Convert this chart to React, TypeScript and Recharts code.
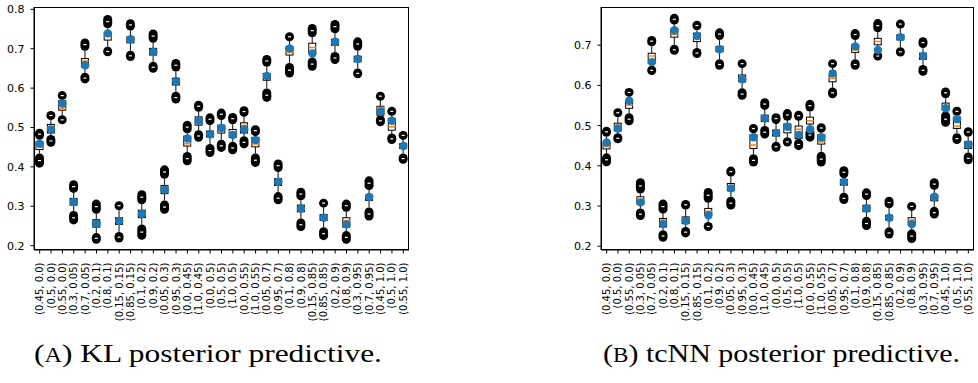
import React from "react";
import { ComposedChart, Bar, Scatter, XAxis, YAxis } from "recharts";

const tickLabels = [
  "(0.45, 0.0)", "(0.5, 0.0)", "(0.55, 0.0)", "(0.3, 0.05)", "(0.7, 0.05)",
  "(0.2, 0.1)", "(0.8, 0.1)", "(0.15, 0.15)", "(0.85, 0.15)", "(0.1, 0.2)",
  "(0.9, 0.2)", "(0.05, 0.3)", "(0.95, 0.3)", "(0.0, 0.45)", "(1.0, 0.45)",
  "(0.0, 0.5)", "(0.5, 0.5)", "(1.0, 0.5)", "(0.0, 0.55)", "(1.0, 0.55)",
  "(0.05, 0.7)", "(0.95, 0.7)", "(0.1, 0.8)", "(0.9, 0.8)", "(0.15, 0.85)",
  "(0.85, 0.85)", "(0.2, 0.9)", "(0.8, 0.9)", "(0.3, 0.95)", "(0.7, 0.95)",
  "(0.45, 1.0)", "(0.5, 1.0)", "(0.55, 1.0)",
];

// (A) KL posterior predictive
const klMean = [0.459, 0.495, 0.561, 0.311, 0.658, 0.256, 0.739, 0.263, 0.724, 0.281, 0.692, 0.342, 0.618, 0.472, 0.517, 0.483, 0.499, 0.481, 0.495, 0.468, 0.631, 0.362, 0.701, 0.294, 0.688, 0.271, 0.718, 0.254, 0.674, 0.324, 0.540, 0.517, 0.453];
const klMedian = [0.451, 0.502, 0.548, 0.311, 0.669, 0.260, 0.733, 0.264, 0.724, 0.281, 0.692, 0.345, 0.618, 0.459, 0.519, 0.483, 0.497, 0.489, 0.506, 0.458, 0.627, 0.362, 0.691, 0.294, 0.703, 0.271, 0.715, 0.264, 0.674, 0.320, 0.551, 0.502, 0.453];
const klQ1 = [0.444, 0.486, 0.544, 0.303, 0.654, 0.247, 0.722, 0.254, 0.715, 0.271, 0.684, 0.332, 0.608, 0.453, 0.506, 0.476, 0.486, 0.475, 0.486, 0.451, 0.620, 0.353, 0.684, 0.286, 0.688, 0.264, 0.709, 0.247, 0.667, 0.315, 0.531, 0.493, 0.447];
const klQ3 = [0.464, 0.508, 0.568, 0.320, 0.675, 0.266, 0.741, 0.271, 0.730, 0.290, 0.701, 0.353, 0.625, 0.478, 0.527, 0.491, 0.506, 0.495, 0.512, 0.475, 0.637, 0.370, 0.705, 0.303, 0.714, 0.279, 0.724, 0.271, 0.681, 0.328, 0.554, 0.523, 0.459];
const klHighFlierMin = [0.469, 0.519, 0.571, 0.334, 0.695, 0.281, 0.752, 0.290, 0.746, 0.305, 0.715, 0.370, 0.642, 0.485, 0.540, 0.506, 0.519, 0.508, 0.527, 0.478, 0.654, 0.387, 0.720, 0.315, 0.729, 0.297, 0.739, 0.286, 0.695, 0.341, 0.571, 0.531, 0.469];
const klHighFlierMax = [0.497, 0.542, 0.591, 0.366, 0.726, 0.317, 0.786, 0.313, 0.775, 0.341, 0.749, 0.404, 0.674, 0.517, 0.568, 0.536, 0.548, 0.537, 0.554, 0.506, 0.684, 0.419, 0.741, 0.347, 0.763, 0.319, 0.773, 0.317, 0.729, 0.376, 0.588, 0.551, 0.491];
const klLowFlierMin = [0.398, 0.451, 0.508, 0.254, 0.612, 0.205, 0.681, 0.208, 0.669, 0.215, 0.639, 0.281, 0.561, 0.404, 0.464, 0.425, 0.438, 0.432, 0.447, 0.400, 0.565, 0.305, 0.627, 0.237, 0.644, 0.214, 0.661, 0.205, 0.625, 0.264, 0.503, 0.458, 0.408];
const klLowFlierMax = [0.434, 0.481, 0.531, 0.288, 0.639, 0.232, 0.705, 0.235, 0.695, 0.254, 0.667, 0.315, 0.591, 0.438, 0.493, 0.458, 0.469, 0.464, 0.478, 0.434, 0.599, 0.336, 0.664, 0.269, 0.678, 0.247, 0.692, 0.237, 0.650, 0.297, 0.531, 0.485, 0.434];

// (B) tcNN posterior predictive
const tcMean = [0.458, 0.493, 0.562, 0.309, 0.658, 0.255, 0.737, 0.263, 0.723, 0.277, 0.690, 0.344, 0.615, 0.471, 0.518, 0.482, 0.497, 0.477, 0.491, 0.471, 0.630, 0.360, 0.697, 0.294, 0.688, 0.271, 0.720, 0.255, 0.673, 0.323, 0.543, 0.516, 0.453];
const tcMedian = [0.448, 0.501, 0.551, 0.316, 0.673, 0.265, 0.727, 0.269, 0.717, 0.287, 0.690, 0.348, 0.619, 0.452, 0.521, 0.482, 0.493, 0.491, 0.512, 0.460, 0.618, 0.360, 0.688, 0.294, 0.709, 0.271, 0.720, 0.265, 0.673, 0.319, 0.549, 0.499, 0.449];
const tcQ1 = [0.442, 0.487, 0.543, 0.305, 0.655, 0.248, 0.720, 0.256, 0.709, 0.277, 0.684, 0.338, 0.609, 0.443, 0.510, 0.474, 0.482, 0.468, 0.504, 0.454, 0.609, 0.352, 0.682, 0.286, 0.701, 0.265, 0.713, 0.252, 0.665, 0.313, 0.539, 0.493, 0.443];
const tcQ3 = [0.456, 0.506, 0.560, 0.323, 0.680, 0.269, 0.740, 0.273, 0.730, 0.294, 0.697, 0.356, 0.626, 0.477, 0.526, 0.489, 0.504, 0.499, 0.521, 0.477, 0.626, 0.366, 0.701, 0.302, 0.717, 0.277, 0.726, 0.271, 0.680, 0.327, 0.556, 0.521, 0.460];
const tcHighFlierMin = [0.472, 0.521, 0.572, 0.331, 0.697, 0.281, 0.751, 0.291, 0.737, 0.308, 0.713, 0.373, 0.643, 0.481, 0.539, 0.504, 0.512, 0.512, 0.535, 0.482, 0.643, 0.369, 0.713, 0.315, 0.732, 0.294, 0.742, 0.288, 0.693, 0.340, 0.568, 0.524, 0.472];
const tcHighFlierMax = [0.497, 0.543, 0.593, 0.369, 0.723, 0.316, 0.778, 0.315, 0.761, 0.345, 0.742, 0.398, 0.665, 0.504, 0.568, 0.531, 0.541, 0.537, 0.564, 0.506, 0.665, 0.399, 0.740, 0.344, 0.765, 0.323, 0.763, 0.310, 0.720, 0.369, 0.595, 0.547, 0.496];
const tcLowFlierMin = [0.399, 0.456, 0.501, 0.265, 0.626, 0.211, 0.676, 0.222, 0.668, 0.240, 0.639, 0.291, 0.564, 0.398, 0.468, 0.435, 0.448, 0.439, 0.460, 0.398, 0.568, 0.305, 0.639, 0.240, 0.662, 0.219, 0.672, 0.208, 0.624, 0.269, 0.497, 0.454, 0.404];
const tcLowFlierMax = [0.431, 0.481, 0.531, 0.294, 0.649, 0.240, 0.701, 0.248, 0.693, 0.258, 0.665, 0.323, 0.593, 0.429, 0.499, 0.460, 0.471, 0.467, 0.493, 0.435, 0.595, 0.333, 0.665, 0.273, 0.684, 0.247, 0.695, 0.242, 0.651, 0.298, 0.535, 0.481, 0.433];

const klTicks = [0.2, 0.3, 0.4, 0.5, 0.6, 0.7, 0.8];
const tcTicks = [0.2, 0.3, 0.4, 0.5, 0.6, 0.7];

const buildRows = (
  mean: number[], median: number[], q1: number[], q3: number[],
  hiMin: number[], hiMax: number[], loMin: number[], loMax: number[]
) =>
  tickLabels.map((label, i) => ({
    label,
    mean: mean[i],
    median: median[i],
    box: [q1[i], q3[i]],
    whisker: [loMax[i], hiMin[i]],
    high: [hiMin[i], hiMax[i]],
    low: [loMin[i], loMax[i]],
  }));

const klRows = buildRows(klMean, klMedian, klQ1, klQ3, klHighFlierMin, klHighFlierMax, klLowFlierMin, klLowFlierMax);
const tcRows = buildRows(tcMean, tcMedian, tcQ1, tcQ3, tcHighFlierMin, tcHighFlierMax, tcLowFlierMin, tcLowFlierMax);

const FONT = "DejaVu Sans";

// many overlapping open circles merge into a black pill
const FlierCluster = (p: any) => {
  const { x, y, width, height } = p;
  const h = Math.max(height, width);
  const top = y + height / 2 - h / 2;
  const cx = x + width / 2;
  return (
    <g>
      <rect x={x} y={top} width={width} height={h} rx={width / 2} fill="#000" />
      <rect x={cx - 1.5} y={top + h / 2 - 0.6} width={3} height={1.2} fill="#fff" />
    </g>
  );
};

const Whisker = (p: any) => {
  const { x, y, width, height } = p;
  const cx = x + width / 2;
  return <line x1={cx} x2={cx} y1={y} y2={y + height} stroke="#222" strokeWidth={1.1} />;
};

const BoxShape = (p: any) => {
  const { x, y, width, height } = p;
  return <rect x={x} y={y} width={width} height={height} fill="#fff" stroke="#000" strokeWidth={1} />;
};

const MedianMark = (p: any) => (
  <line x1={p.cx - 3.6} x2={p.cx + 3.6} y1={p.cy} y2={p.cy} stroke="#ff7f0e" strokeWidth={1.5} />
);

const MeanMark = (p: any) => <circle cx={p.cx} cy={p.cy} r={4.2} fill="#1f77b4" />;

const RotatedTick = (p: any) => {
  const { x, y, payload } = p;
  return (
    <text
      x={x}
      y={y}
      transform={`rotate(-90, ${x}, ${y})`}
      textAnchor="end"
      dominantBaseline="central"
      fontSize={10}
      fontFamily={FONT}
      fill="#000"
    >
      {payload.value}
    </text>
  );
};

interface PanelProps {
  rows: any[];
  domain: [number, number];
  ticks: number[];
  width: number;
  margin: { top: number; right: number; left: number; bottom: number };
}

const BoxPanel: React.FC<PanelProps> = ({ rows, domain, ticks, width, margin }) => {
  const plotW = width - margin.left - margin.right - 30;
  const plotH = 340 - margin.top - margin.bottom - 90;
  return (
    <div style={{ position: "relative", width, height: 340 }}>
      <ComposedChart width={width} height={340} data={rows} margin={margin}>
        <XAxis xAxisId="w" dataKey="label" orientation="top" height={0} hide />
        <XAxis xAxisId="lo" dataKey="label" orientation="top" height={0} hide />
        <XAxis xAxisId="hi" dataKey="label" orientation="top" height={0} hide />
        <XAxis xAxisId="bx" dataKey="label" orientation="top" height={0} hide />
        <XAxis
          xAxisId="main"
          dataKey="label"
          orientation="bottom"
          interval={0}
          height={90}
          tickSize={3.5}
          tickMargin={9}
          tick={<RotatedTick />}
          axisLine={{ stroke: "#000" }}
          tickLine={{ stroke: "#000" }}
        />
        <YAxis
          type="number"
          domain={domain}
          ticks={ticks}
          allowDataOverflow
          width={30}
          tickSize={3.5}
          tickMargin={6}
          tickFormatter={(v: number) => v.toFixed(1)}
          tick={{ fontSize: 11, fontFamily: FONT, fill: "#000" }}
          axisLine={{ stroke: "#000" }}
          tickLine={{ stroke: "#000" }}
        />
        <Bar xAxisId="w" dataKey="whisker" barSize={9} shape={<Whisker />} isAnimationActive={false} />
        <Bar xAxisId="lo" dataKey="low" barSize={9} shape={<FlierCluster />} isAnimationActive={false} />
        <Bar xAxisId="hi" dataKey="high" barSize={9} shape={<FlierCluster />} isAnimationActive={false} />
        <Bar xAxisId="bx" dataKey="box" barSize={7} shape={<BoxShape />} isAnimationActive={false} />
        <Scatter xAxisId="main" dataKey="median" shape={<MedianMark />} isAnimationActive={false} />
        <Scatter xAxisId="main" dataKey="mean" shape={<MeanMark />} isAnimationActive={false} />
      </ComposedChart>
      {/* axes frame (matplotlib spines) */}
      <div
        style={{
          position: "absolute",
          left: margin.left + 30 - 0.5,
          top: margin.top - 0.5,
          width: plotW,
          height: plotH,
          border: "1px solid #000",
          boxSizing: "border-box",
          pointerEvents: "none",
        }}
      />
    </div>
  );
};

export default function App() {
  return (
    <div style={{ position: "absolute", left: 0, top: 0, width: 978, height: 383, background: "#fff", overflow: "hidden" }}>
      <div style={{ position: "absolute", left: 0, top: 0 }}>
        <BoxPanel rows={klRows} domain={[0.189, 0.806]} ticks={klTicks} width={415} margin={{ top: 7, right: 6, left: 4, bottom: 0 }} />
      </div>
      <div style={{ position: "absolute", left: 566, top: 0 }}>
        <BoxPanel rows={tcRows} domain={[0.1906, 0.795]} ticks={tcTicks} width={412} margin={{ top: 7, right: 4, left: 5, bottom: 0 }} />
      </div>
      <svg width={978} height={383} style={{ position: "absolute", left: 0, top: 0, pointerEvents: "none" }}>
        <text x={34} y={362} fontFamily="Liberation Serif" fontSize={26} fill="#000" textLength={348} lengthAdjust="spacingAndGlyphs">
          (<tspan fontSize={20}>A</tspan>) KL posterior predictive.
        </text>
        <text x={603} y={362} fontFamily="Liberation Serif" fontSize={26} fill="#000" textLength={357} lengthAdjust="spacingAndGlyphs">
          (<tspan fontSize={20}>B</tspan>) tcNN posterior predictive.
        </text>
      </svg>
    </div>
  );
}
